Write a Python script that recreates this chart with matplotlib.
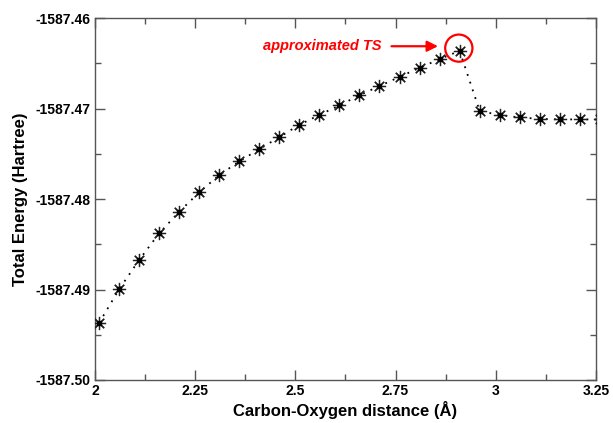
import matplotlib
matplotlib.use('Agg')
import matplotlib.pyplot as plt
from matplotlib.patches import Ellipse
from matplotlib.ticker import MultipleLocator, FormatStrFormatter

plt.rcParams['font.family'] = ['Liberation Sans', 'DejaVu Sans']
plt.rcParams['axes.unicode_minus'] = False

# C-O distance (Angstrom) and total energy (Hartree)
distance = [2.01, 2.06, 2.11, 2.16, 2.21, 2.26, 2.31, 2.36, 2.41, 2.46,
            2.51, 2.56, 2.61, 2.66, 2.71, 2.76, 2.81, 2.86, 2.91,
            2.96, 3.01, 3.06, 3.11, 3.16, 3.21, 3.26]
energy = [-1587.49370, -1587.48998, -1587.48674, -1587.48379, -1587.48140,
          -1587.47926, -1587.47735, -1587.47583, -1587.47448, -1587.47315,
          -1587.47179, -1587.47069, -1587.46965, -1587.46851, -1587.46751,
          -1587.46649, -1587.46549, -1587.46453, -1587.46361,
          -1587.47024, -1587.47072, -1587.47097, -1587.47113, -1587.47119,
          -1587.47119, -1587.47120]
ts_x, ts_y = 2.91, -1587.46361

fig = plt.figure(figsize=(6.13, 4.23), dpi=100)
ax = fig.add_axes([0.155, 0.1017, 0.817, 0.8553])

ax.plot(distance, energy, color='black', linestyle=(0, (1, 3.5)), linewidth=1.3,
        marker=(8, 2, 0), markersize=9.5, markeredgewidth=0.9,
        markeredgecolor='#222222', zorder=3)
# small dark core of each star
ax.plot(distance, energy, linestyle='none', marker='s', markersize=2.2,
        color='black', zorder=3)

# red circle + label around the transition state
ax.add_patch(Ellipse((ts_x - 0.002, ts_y + 0.0003), 0.068, 0.0030,
                     fill=False, edgecolor='red', linewidth=1.6, zorder=4))
ax.annotate('', xy=(2.856, -1587.4631), xytext=(2.74, -1587.4631),
            arrowprops=dict(arrowstyle='-|>', color='red', lw=1.6,
                            mutation_scale=16, shrinkA=0, shrinkB=0))
ax.text(2.716, -1587.4631, 'approximated TS', color='red', fontsize=10.5,
        fontweight='bold', fontstyle='italic', ha='right', va='center')

ax.set_xlim(2, 3.25)
ax.set_ylim(-1587.50, -1587.46)
ax.xaxis.set_major_locator(MultipleLocator(0.25))
ax.xaxis.set_minor_locator(MultipleLocator(0.125))
ax.yaxis.set_major_locator(MultipleLocator(0.01))
ax.yaxis.set_minor_locator(MultipleLocator(0.005))
ax.yaxis.set_major_formatter(FormatStrFormatter('%.2f'))
ax.xaxis.set_major_formatter(FormatStrFormatter('%g'))

ax.tick_params(which='both', direction='in', top=True, right=True,
               color='#555555', width=1.0)
ax.tick_params(which='major', length=7.5, labelsize=10, pad=3)
ax.tick_params(which='minor', length=4)
for lab in ax.get_xticklabels() + ax.get_yticklabels():
    lab.set_fontweight('bold')
for sp in ax.spines.values():
    sp.set_color('#555555')
    sp.set_linewidth(1.0)

ax.set_xlabel('Carbon-Oxygen distance (Å)', fontsize=12, fontweight='bold', labelpad=2)
ax.set_ylabel('Total Energy (Hartree)', fontsize=12, fontweight='bold', labelpad=6)

fig.savefig('out.png', dpi=100)
